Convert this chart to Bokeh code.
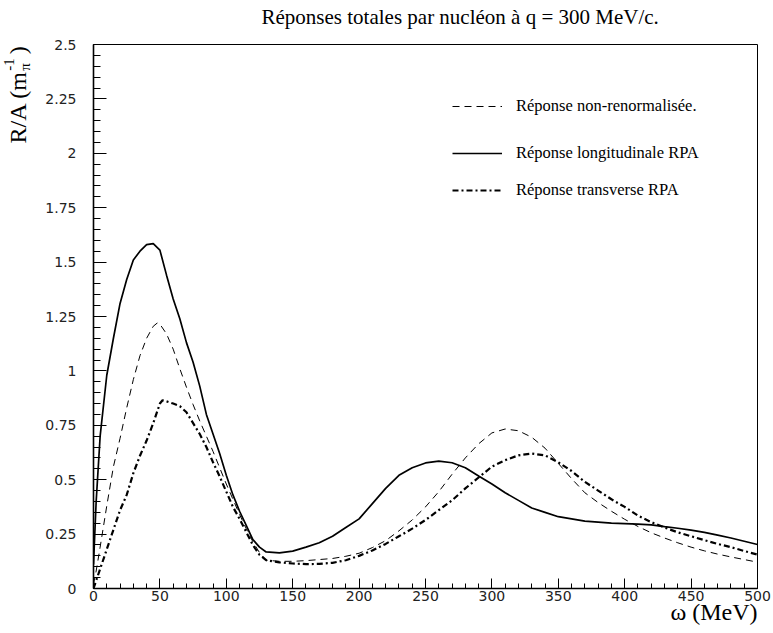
import numpy as np
from bokeh.plotting import figure
from bokeh.models import Range1d, FixedTicker, PrintfTickFormatter, Legend, LegendItem, Title
from bokeh.embed import file_html
from bokeh.resources import INLINE

# ---- data ----
x_L = [0, 2, 5, 10, 15, 20, 25, 30, 35, 40, 45, 50, 55, 60, 65, 70, 75, 80, 85, 90, 95,
       100, 105, 110, 115, 120, 125, 130, 140, 150, 160, 170, 180, 190, 200, 210, 220, 230,
       240, 250, 260, 270, 280, 290, 300, 310, 320, 330, 340, 350, 360, 370, 380, 390, 400,
       410, 420, 430, 440, 450, 460, 470, 480, 490, 500]
y_L = [0.11, 0.40, 0.70, 0.98, 1.15, 1.31, 1.42, 1.51, 1.55, 1.58, 1.585, 1.555, 1.44, 1.33,
       1.24, 1.13, 1.04, 0.93, 0.80, 0.71, 0.62, 0.52, 0.43, 0.355, 0.29, 0.225, 0.19, 0.168,
       0.164, 0.172, 0.19, 0.21, 0.24, 0.28, 0.32, 0.39, 0.46, 0.52, 0.555, 0.577, 0.585,
       0.578, 0.555, 0.517, 0.48, 0.44, 0.405, 0.37, 0.35, 0.33, 0.32, 0.31, 0.305, 0.30,
       0.298, 0.296, 0.292, 0.284, 0.277, 0.268, 0.258, 0.245, 0.232, 0.217, 0.202]

x_N = [0, 2, 5, 10, 15, 20, 25, 30, 35, 40, 45, 48, 50, 55, 60, 65, 70, 75, 80, 85, 90, 95,
       100, 105, 110, 115, 120, 125, 130, 140, 150, 160, 170, 180, 190, 200, 210, 220, 230,
       240, 250, 260, 270, 280, 290, 300, 310, 320, 330, 340, 350, 360, 370, 380, 390, 400,
       410, 420, 430, 440, 450, 460, 470, 480, 490, 500]
y_N = [0.02, 0.08, 0.19, 0.38, 0.56, 0.69, 0.83, 0.96, 1.07, 1.15, 1.205, 1.22, 1.215, 1.17,
       1.10, 1.01, 0.925, 0.845, 0.77, 0.70, 0.63, 0.555, 0.48, 0.41, 0.34, 0.275, 0.215,
       0.165, 0.13, 0.125, 0.125, 0.128, 0.133, 0.138, 0.148, 0.162, 0.188, 0.22, 0.265,
       0.315, 0.375, 0.445, 0.525, 0.60, 0.665, 0.715, 0.733, 0.725, 0.695, 0.645, 0.575,
       0.505, 0.44, 0.395, 0.355, 0.318, 0.285, 0.256, 0.232, 0.21, 0.19, 0.173, 0.158,
       0.145, 0.133, 0.121]

x_T = [0, 5, 10, 15, 20, 25, 30, 35, 40, 45, 50, 52, 55, 60, 65, 70, 75, 80, 85, 90, 95,
       100, 105, 110, 115, 120, 125, 130, 140, 150, 160, 170, 180, 190, 200, 210, 220, 230,
       240, 250, 260, 270, 280, 290, 300, 310, 320, 330, 340, 350, 360, 370, 380, 390, 400,
       410, 420, 430, 440, 450, 460, 470, 480, 490, 500]
y_T = [0.0, 0.09, 0.18, 0.27, 0.36, 0.43, 0.53, 0.61, 0.68, 0.76, 0.85, 0.865, 0.86, 0.85,
       0.838, 0.81, 0.76, 0.71, 0.65, 0.58, 0.515, 0.445, 0.375, 0.32, 0.26, 0.20, 0.155,
       0.13, 0.12, 0.115, 0.112, 0.113, 0.118, 0.13, 0.15, 0.175, 0.205, 0.24, 0.275, 0.315,
       0.36, 0.405, 0.46, 0.51, 0.56, 0.59, 0.612, 0.62, 0.612, 0.58, 0.54, 0.49, 0.45,
       0.41, 0.375, 0.335, 0.305, 0.28, 0.258, 0.24, 0.222, 0.205, 0.19, 0.172, 0.156]

x_ticks = [0, 50, 100, 150, 200, 250, 300, 350, 400, 450, 500]
y_ticks = [0, 0.25, 0.5, 0.75, 1, 1.25, 1.5, 1.75, 2, 2.25, 2.5]
x_minor = [float(v) for v in np.arange(0, 501, 10)]
y_minor = [float(v) for v in np.round(np.arange(0, 2.501, 0.05), 2)]

title_text = "Réponses totales par nucléon à q = 300 MeV/c."
xlabel_text = "ω (MeV)"
label_N = "Réponse non-renormalisée."
label_L = "Réponse longitudinale RPA"
label_T = "Réponse transverse RPA"

SERIF = "Liberation Serif"
SANS = "DejaVu Sans"

p = figure(width=773, height=633, x_range=Range1d(0, 500), y_range=Range1d(0, 2.5),
           output_backend="svg", toolbar_location=None,
           min_border_left=93, min_border_right=16, min_border_top=44, min_border_bottom=45)
p.xgrid.visible = False
p.ygrid.visible = False
p.outline_line_color = "black"
p.outline_line_width = 1
p.background_fill_color = "white"
p.border_fill_color = "white"

for ax, ticks, minor, tin, min_in in ((p.xaxis[0], x_ticks, x_minor, 10, 5),
                                       (p.yaxis[0], y_ticks, y_minor, 13, 7)):
    ax.ticker = FixedTicker(ticks=ticks, minor_ticks=minor)
    ax.formatter = PrintfTickFormatter(format="%g")
    ax.major_tick_in = tin
    ax.major_tick_out = 0
    ax.minor_tick_in = min_in
    ax.minor_tick_out = 0
    ax.axis_line_width = 1.6
    ax.axis_line_color = "black"
    ax.major_tick_line_color = "black"
    ax.minor_tick_line_color = "black"
    ax.major_label_text_font = SANS
    ax.major_label_text_font_size = "14px"
    ax.major_label_text_color = "#222222"

p.xaxis.major_label_standoff = 2
p.yaxis.major_label_standoff = 17

r_N = p.line(x_N, y_N, line_color="black", line_width=1, line_dash="7 5")
r_L = p.line(x_L, y_L, line_color="black", line_width=1.7)
r_T = p.line(x_T, y_T, line_color="black", line_width=2.2, line_dash="6 3 2 3")

for lab, rend, ypos in ((label_N, r_N, 472), (label_L, r_L, 425), (label_T, r_T, 388)):
    leg = Legend(items=[LegendItem(label=lab, renderers=[rend])], location=(359, ypos),
                 padding=0, margin=0, spacing=0, glyph_width=50, glyph_height=16,
                 label_height=16, label_standoff=14, border_line_alpha=0,
                 background_fill_alpha=0, label_text_font=SERIF,
                 label_text_font_size="16.5px", label_text_color="black")
    p.add_layout(leg)

# spacer between frame and title (keeps the title's gap to the frame)
p.add_layout(Title(text="\u00a0", text_font_size="1px", standoff=12.6), "above")
p.title.text = title_text
p.title.align = "left"
p.title.offset = 168
p.title.standoff = 0
p.title.text_font = SERIF
p.title.text_font_style = "normal"
p.title.text_font_size = "21px"
p.title.text_color = "black"

# x axis label, right-aligned under the axis
p.add_layout(Title(text=xlabel_text, align="right", offset=0, vertical_align="top",
                   standoff=-9, text_font=SERIF, text_font_style="normal",
                   text_font_size="24px", text_color="black"), "below")

# y axis label: R/A (m_pi^-1) built from pieces (subscript, superscript)
ylab = [("π", 19.6, "15px", 517.7), ("-1", -19.6, "15px", 517.7),
        ("R/A (m\u00a0\u00a0\u00a0)", -53.2, "24px", 445)]
for t, so, fs, off in ylab:
    p.add_layout(Title(text=t, align="left", offset=off, vertical_align="bottom",
                       standoff=so, text_font=SERIF, text_font_style="normal",
                       text_font_size=fs, text_color="black"), "left")

open("out.html", "w").write(file_html(p, INLINE))
